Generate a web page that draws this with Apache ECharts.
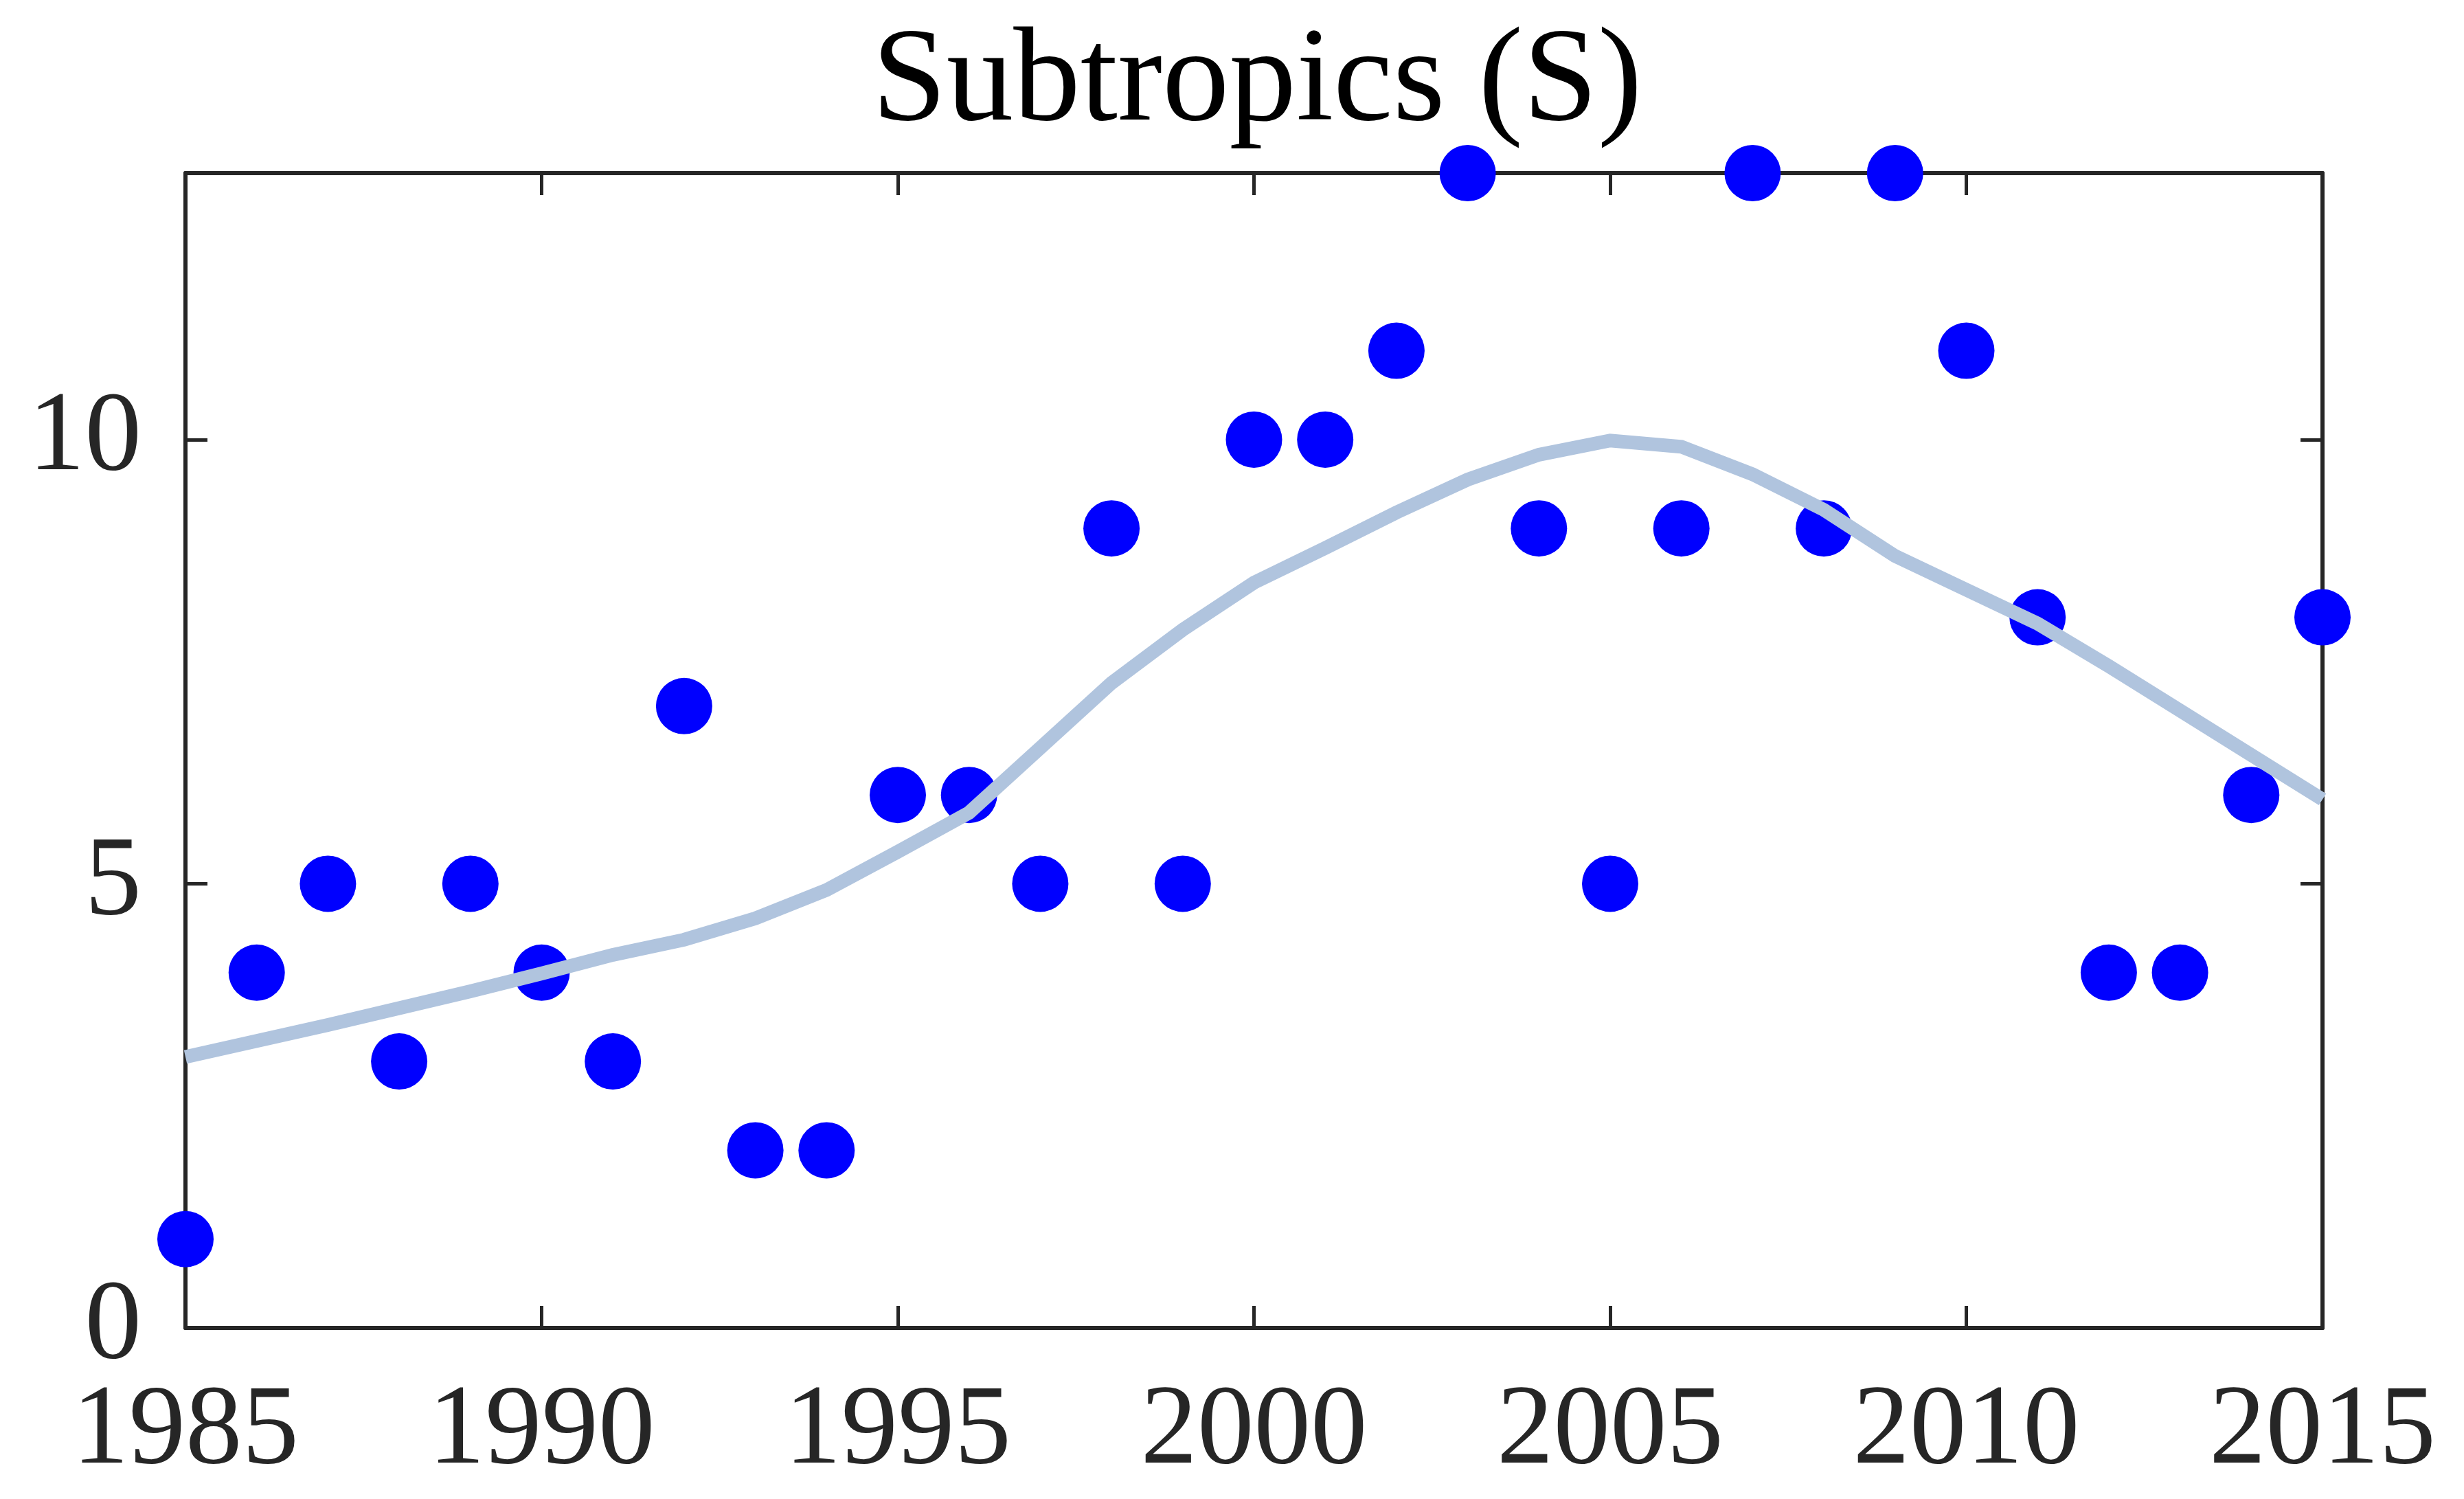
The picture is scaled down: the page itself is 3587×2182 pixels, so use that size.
<!DOCTYPE html>
<html>
<head>
<meta charset="utf-8">
<script src="https://cdn.jsdelivr.net/npm/echarts@6/dist/echarts.min.js"></script>
<style>
html,body{margin:0;padding:0;background:#fff;}
#c{width:3587px;height:2182px;}
</style>
</head>
<body>
<div id="c"></div>
<script>
var years = [1985,1986,1987,1988,1989,1990,1991,1992,1993,1994,1995,1996,1997,1998,1999,2000,2001,2002,2003,2004,2005,2006,2007,2008,2009,2010,2011,2012,2013,2014,2015];
var counts = [1,4,5,3,5,4,3,7,2,2,6,6,5,9,5,10,10,11,13,9,5,9,13,9,13,11,8,4,4,6,8];
var trend = [3.05,3.23,3.41,3.6,3.79,3.99,4.2,4.37,4.61,4.93,5.36,5.8,6.53,7.26,7.86,8.39,8.78,9.18,9.55,9.83,9.99,9.92,9.61,9.21,8.69,8.31,7.93,7.45,6.95,6.45,5.95];
var titleText = 'Subtropics (S)';

var axisColor = '#262626';
var font = '"Liberation Serif", "Times New Roman", serif';

function pairs(xs, ys){ return xs.map(function(x,i){ return [x, ys[i]]; }); }

var chart = echarts.init(document.getElementById('c'));
function common(){
  return {
    axisLine:{show:true, onZero:false, lineStyle:{color:axisColor, width:6}},
    axisTick:{show:true, inside:true, length:32, lineStyle:{color:axisColor, width:5}},
    splitLine:{show:false}
  };
}
chart.setOption({
  animation:false,
  backgroundColor:'#ffffff',
  title:{
    text:titleText, left:1825, top:20, textAlign:'center',
    textStyle:{fontFamily:font, fontSize:195, fontWeight:'normal', color:'#000000'}
  },
  grid:{left:270, right:206, top:252, bottom:249, containLabel:false},
  xAxis:[
    Object.assign({type:'value', position:'bottom', min:1985, max:2015, interval:5,
      axisLabel:{show:true, margin:70, fontFamily:font, fontSize:165, color:axisColor,
        formatter:function(v){ return String(v); }}}, common()),
    Object.assign({type:'value', position:'top', min:1985, max:2015, interval:5,
      axisLabel:{show:false}}, common())
  ],
  yAxis:[
    Object.assign({type:'value', position:'left', min:0, max:13, interval:5,
      axisLabel:{show:true, margin:64, fontFamily:font, fontSize:165, color:axisColor, showMaxLabel:false,
        formatter:function(v){ return String(v); }}}, common()),
    Object.assign({type:'value', position:'right', min:0, max:13, interval:5,
      axisLabel:{show:false}}, common())
  ],
  series:[
    {type:'scatter', xAxisIndex:0, yAxisIndex:0, data:pairs(years, counts),
      symbol:'circle', symbolSize:82, clip:false, z:3,
      itemStyle:{color:'#0000ff', opacity:1}},
    {type:'line', xAxisIndex:0, yAxisIndex:0, data:pairs(years, trend),
      showSymbol:false, smooth:false, clip:true, z:4,
      lineStyle:{color:'#b0c4de', width:20, cap:'butt', join:'miter'}}
  ]
});
</script>
</body>
</html>
